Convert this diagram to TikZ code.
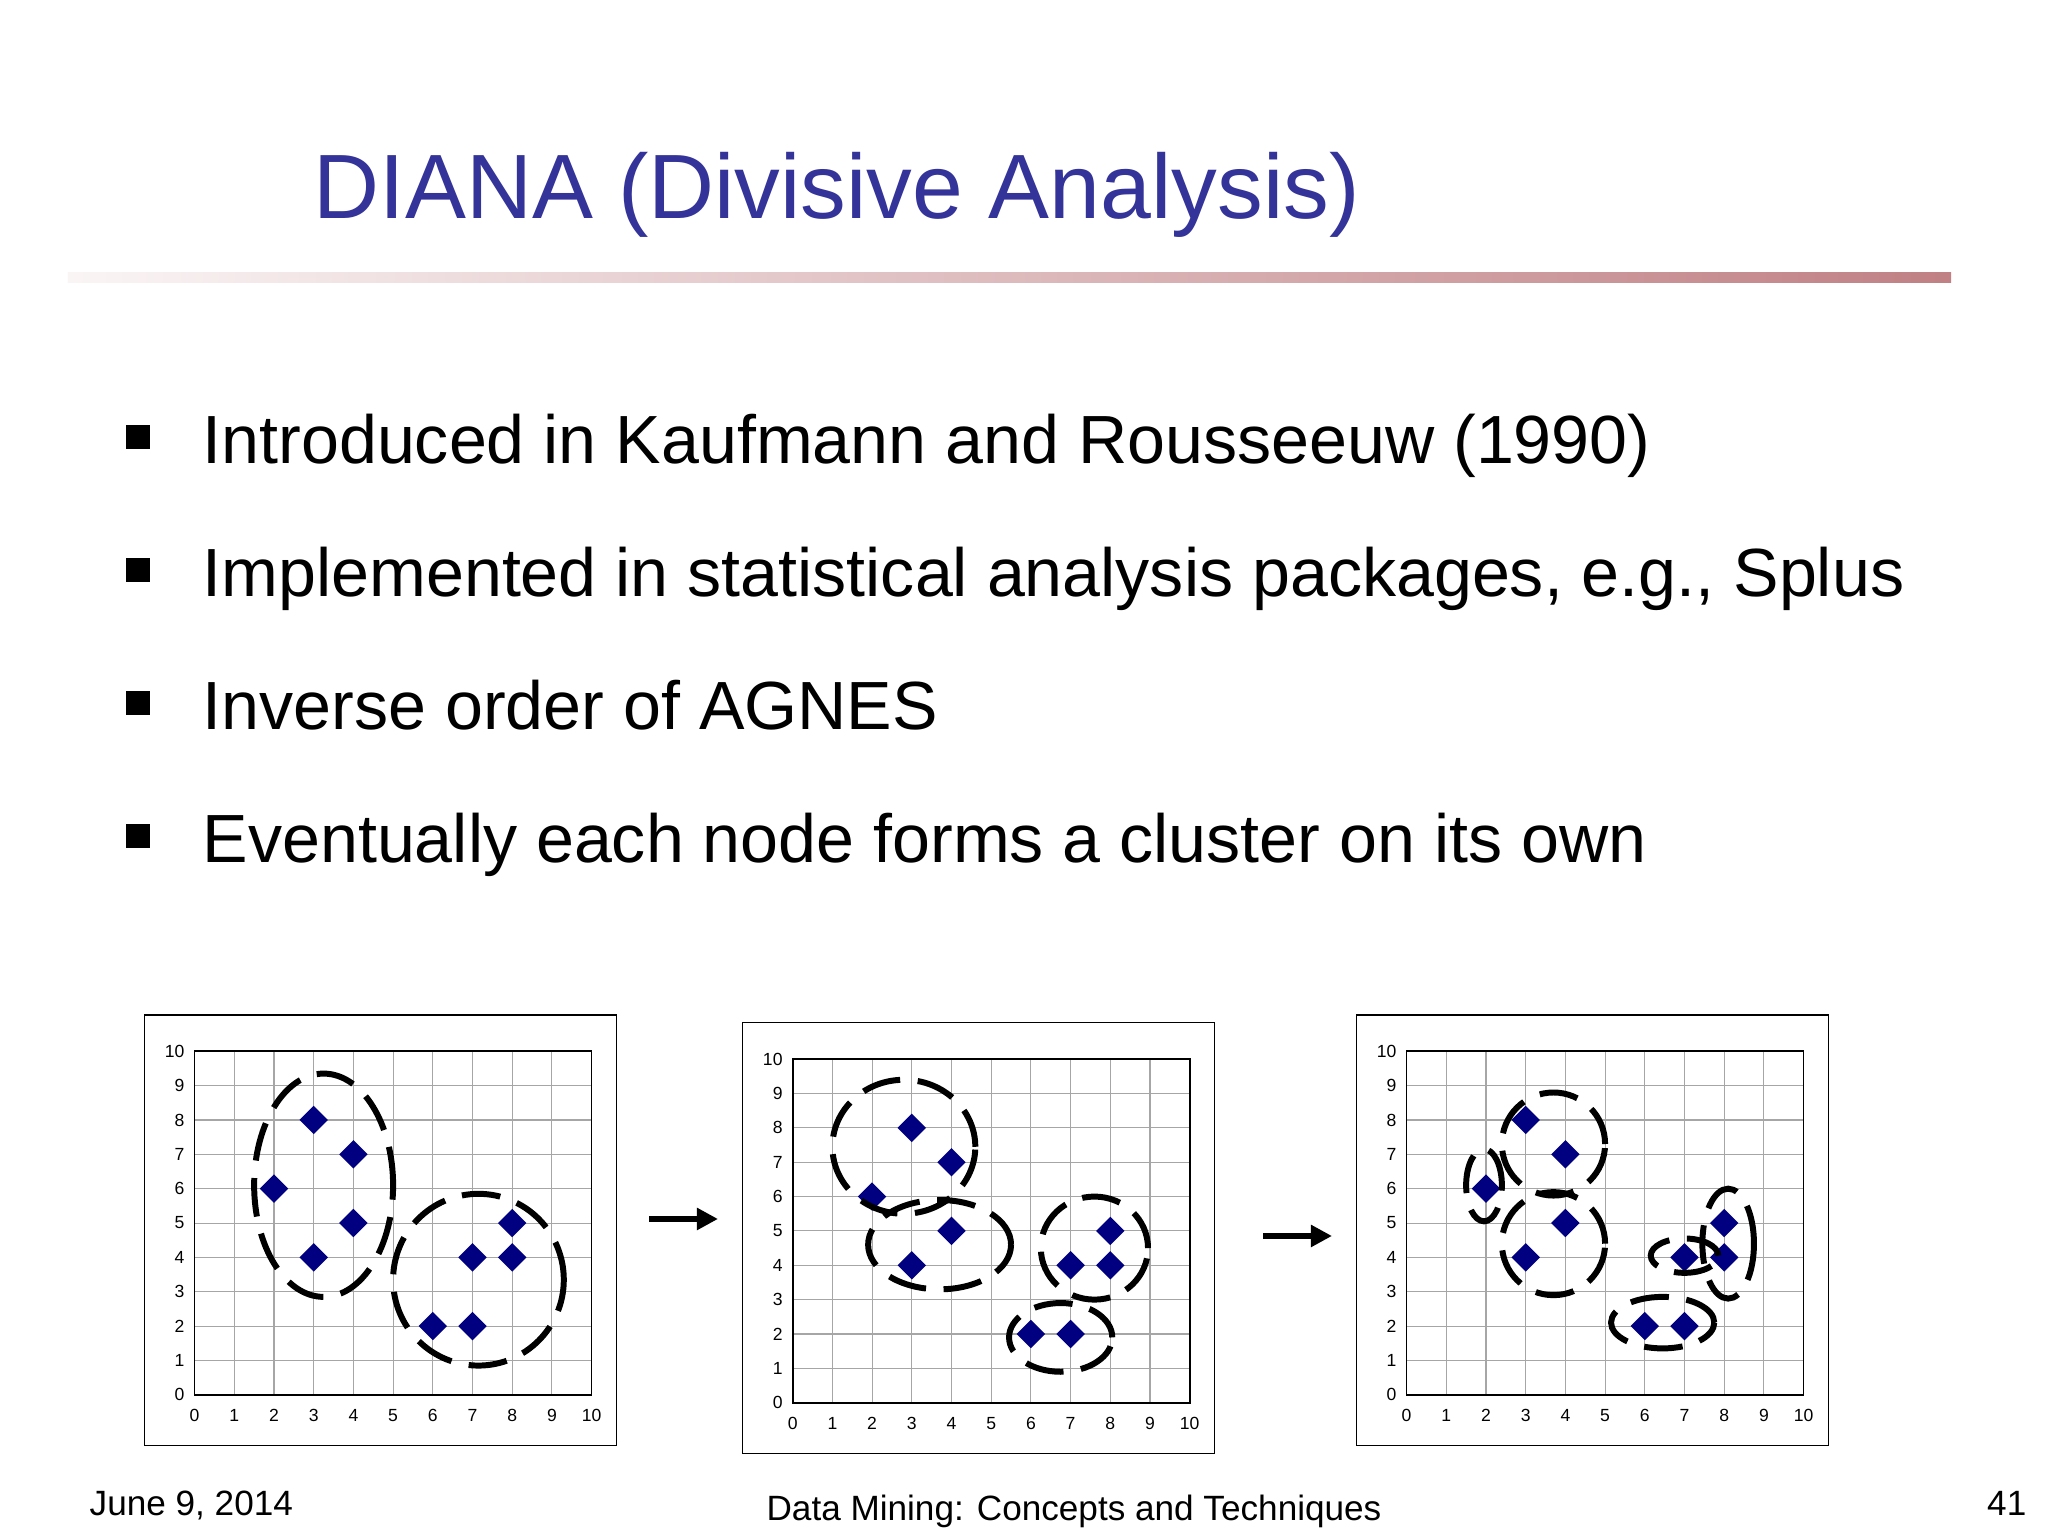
\documentclass[tikz,border=0pt]{standalone}
\usepackage{fontspec}
\setmainfont{Liberation Sans}
\usetikzlibrary{shapes.geometric,arrows.meta}
\definecolor{titleblue}{RGB}{51,51,153}
\definecolor{pt}{RGB}{0,0,128}
\definecolor{rulered}{RGB}{192,128,132}
\tikzset{
  dot/.style={diamond,fill=pt,inner sep=0,minimum size=0.29cm},
  clus/.style={line width=1.7pt,dash pattern=on 11pt off 5pt},
  tick/.style={font=\fontsize{5}{6}\selectfont,inner sep=1pt},
  bul/.style={font=\fontsize{19.4}{23}\selectfont,anchor=base west,inner sep=0},
  foot/.style={font=\fontsize{10}{12}\selectfont,inner sep=0},
  sq/.style={fill=black,minimum size=0.24cm,inner sep=0}
}
\newcommand\mychart[2]{%
\begin{scope}[shift={#1},x=0.397cm,y=0.3435cm]
  \draw[black,line width=0.4pt] (-1.26,-1.48) rectangle (10.63,11.06);
  \foreach \i in {1,...,9}{
    \draw[gray!70,line width=0.3pt] (\i,0) -- (\i,10);
    \draw[gray!70,line width=0.3pt] (0,\i) -- (10,\i);}
  \draw[black,line width=0.5pt] (0,0) rectangle (10,10);
  \foreach \i in {0,...,10}{
    \node[tick,anchor=east] at (-0.15,\i) {\i};
    \node[tick,anchor=north] at (\i,-0.3) {\i};}
  \foreach \p/\q [count=\k] in {2/6,3/8,4/7,4/5,3/4,6/2,7/2,7/4,8/4,8/5}
    \node[dot] (#2p\k) at (\p,\q) {};
\end{scope}}
\begin{document}
\begin{tikzpicture}
\useasboundingbox (0,0) rectangle (20.48,15.36);
\fill[white] (0,0) rectangle (20.48,15.36);
\node[font=\fontsize{26}{30}\selectfont,text=titleblue,anchor=base west,inner sep=0] (title) at (3.13,13.17) {DIANA (Divisive Analysis)};
\shade[left color=rulered!8,right color=rulered] (0.68,12.53) rectangle (19.51,12.63);
\foreach \t/\y [count=\k] in {{Introduced in Kaufmann and Rousseeuw (1990)}/10.72,
  {Implemented in statistical analysis packages, e.g., Splus}/9.39,
  {Inverse order of AGNES}/8.06,
  {Eventually each node forms a cluster on its own}/6.73}{
  \node[sq] (s\k) at (1.38,\y+0.27) {};
  \node[bul] (b\k) at (2.02,\y) {\t};}
\mychart{(1.946,1.412)}{a}
\mychart{(7.927,1.333)}{b}
\mychart{(14.066,1.412)}{c}
\begin{scope}[shift={(1.946,1.412)},x=0.397cm,y=0.3435cm]
  \draw[clus] (3.25,6.1) ellipse [x radius=1.75,y radius=3.25];
  \draw[clus] (7.15,3.35) ellipse [x radius=2.15,y radius=2.5];
\end{scope}
\begin{scope}[shift={(7.927,1.333)},x=0.397cm,y=0.3435cm]
  \draw[clus] (2.8,7.45) ellipse [x radius=1.8,y radius=1.95];
  \draw[clus] (3.7,4.6) ellipse [x radius=1.8,y radius=1.3];
  \draw[clus] (7.6,4.5) ellipse [x radius=1.35,y radius=1.5];
  \draw[clus] (6.75,1.9) ellipse [x radius=1.3,y radius=1.0];
\end{scope}
\begin{scope}[shift={(14.066,1.412)},x=0.397cm,y=0.3435cm]
  \draw[clus] (1.95,6.1) ellipse [x radius=0.45,y radius=1.05];
  \draw[clus] (3.7,7.3) ellipse [x radius=1.3,y radius=1.5];
  \draw[clus] (3.7,4.4) ellipse [x radius=1.3,y radius=1.5];
  \draw[clus] (7,4.05) ellipse [x radius=0.85,y radius=0.5];
  \draw[clus] (8.1,4.4) ellipse [x radius=0.65,y radius=1.6];
  \draw[clus] (6.45,2.1) ellipse [x radius=1.3,y radius=0.75];
\end{scope}
\coordinate (a1) at (6.49,3.17); \coordinate (a2) at (7.18,3.17);
\coordinate (c1) at (12.63,3.00); \coordinate (c2) at (13.32,3.00);
\draw[line width=1.5pt,-{Triangle[length=6pt,width=6pt]}] (a1) -- (a2);
\draw[line width=1.5pt,-{Triangle[length=6pt,width=6pt]}] (c1) -- (c2);
\node[foot,anchor=base west] (date) at (0.89,0.20) {June 9, 2014};
\node[foot,anchor=base] (foot) at (10.74,0.15) {Data Mining: Concepts and Techniques};
\node[foot,anchor=base east] (num) at (20.27,0.20) {41};
\end{tikzpicture}
\end{document}
